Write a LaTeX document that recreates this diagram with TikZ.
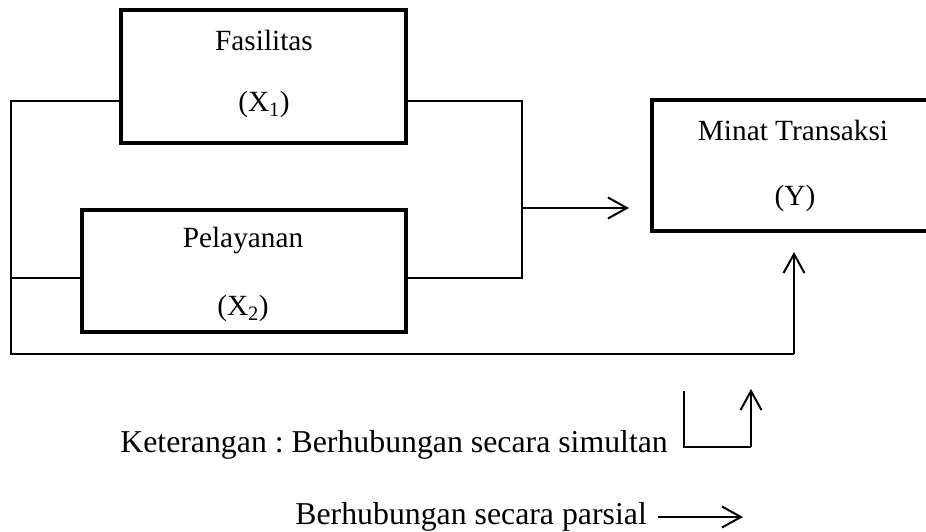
\documentclass[tikz,border=0pt]{standalone}
\usepackage{fontspec}
\setmainfont{Liberation Serif}
\frenchspacing
\usetikzlibrary{arrows.meta}
\begin{document}
\begin{tikzpicture}[x=1pt,y=-1pt,
  box/.style={draw,line width=4.3pt,rectangle,inner sep=0pt,outer sep=0pt},
  lbl/.style={anchor=base,inner sep=0pt,font=\fontsize{29.3}{34}\selectfont},
  leg/.style={anchor=base east,inner sep=0pt,font=\fontsize{31.8}{36}\selectfont},
  conn/.style={line width=2pt},
  arr/.style={conn,-{Straight Barb[length=19pt,width=21pt]}}]
\useasboundingbox (0,0) rectangle (926,532);
\clip (0,0) rectangle (926,532);
% boxes
\node[box,minimum width=285pt,minimum height=133pt] (fas) at (263.5,76.5) {};
\node[box,minimum width=324pt,minimum height=122pt] (pel) at (244,271) {};
\node[box,minimum width=290pt,minimum height=131pt] (min) at (797,165.5) {};
% texts
\node[lbl] (t1) at (264,51) {Fasilitas};
\node[lbl] (t2) at (264,112) {(X\textsubscript{1})};
\node[lbl] (t3) at (243,247) {Pelayanan};
\node[lbl] (t4) at (243,315) {(X\textsubscript{2})};
\node[lbl] (t5) at (793,140) {Minat Transaksi};
\node[lbl] (t6) at (795,205) {(Y)};
% coordinates
\coordinate (a) at (11,101);
\coordinate (b) at (11,278);
\coordinate (c) at (11,354);
\coordinate (d) at (794,354);
\coordinate (e) at (794,252);
\coordinate (r1) at (522,101);
\coordinate (r2) at (522,278);
\coordinate (m) at (522,208);
\coordinate (mt) at (629,208);
% connectors
\draw[conn] (fas.west |- a) -- (a) -- (c) -- (d);
\draw[arr] (d) -- (e);
\draw[conn] (pel.west |- b) -- (b);
\draw[conn] (fas.east |- r1) -- (r1) -- (r2) -- (pel.east |- r2);
\draw[arr] (m) -- (mt);
% legend
\node[leg] (k1) at (668,452) {Keterangan : Berhubungan secara simultan};
\node[leg] (k2) at (647,524) {Berhubungan secara parsial};
\coordinate (s1) at (684,391);
\coordinate (s2) at (684,447);
\coordinate (s3) at (751,447);
\coordinate (s4) at (751,389);
\draw[conn] (s1) -- (s2) -- (s3);
\draw[arr] (s3) -- (s4);
\coordinate (p1) at (658,517);
\coordinate (p2) at (743,517);
\draw[arr] (p1) -- (p2);
\end{tikzpicture}
\end{document}
